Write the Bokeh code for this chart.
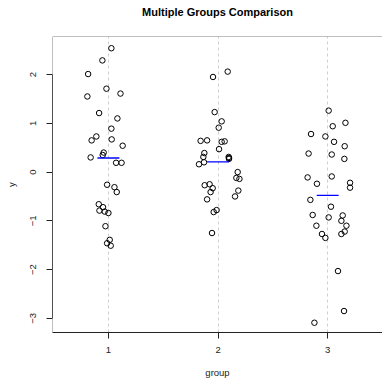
import numpy as np
from bokeh.plotting import figure
from bokeh.models import Range1d, Span, FixedTicker
from bokeh.embed import file_html
from bokeh.resources import INLINE

# ---- data ----
groups = [1, 2, 3]
tick_labels = ["1", "2", "3"]

g1_x = [1.027, 0.945, 0.815, 0.982, 1.110, 0.808, 0.915, 1.082, 1.027, 0.890,
        0.847, 1.030, 1.130, 0.957, 0.948, 0.838, 1.070, 1.120, 0.988, 1.055,
        1.076, 0.912, 0.951, 0.918, 0.966, 1.000, 0.973, 1.012, 0.988, 1.021]
g1_y = [2.54, 2.29, 2.01, 1.71, 1.61, 1.55, 1.21, 1.10, 0.89, 0.73,
        0.65, 0.67, 0.54, 0.40, 0.35, 0.30, 0.19, 0.19, -0.26, -0.31,
        -0.41, -0.66, -0.72, -0.79, -0.81, -0.84, -1.11, -1.39, -1.46, -1.51]

g2_x = [2.088, 1.954, 1.969, 2.033, 2.006, 1.841, 1.900, 2.033, 2.060, 2.009,
        1.875, 1.866, 2.097, 2.100, 2.100, 1.872, 1.826, 2.179, 2.167, 2.195,
        1.878, 1.923, 1.951, 1.932, 2.185, 2.155, 1.900, 1.987, 1.960, 1.945]
g2_y = [2.06, 1.95, 1.23, 1.04, 0.91, 0.64, 0.65, 0.62, 0.63, 0.47,
        0.39, 0.31, 0.31, 0.27, 0.29, 0.20, 0.16, 0.00, -0.12, -0.14,
        -0.27, -0.25, -0.33, -0.41, -0.38, -0.50, -0.56, -0.78, -0.82, -1.25]

g3_x = [3.009, 3.162, 3.046, 2.848, 2.979, 3.058, 3.155, 2.826, 3.037, 3.152,
        2.817, 3.037, 2.902, 3.204, 3.204, 2.842, 3.030, 2.863, 3.009, 3.137,
        3.125, 2.897, 3.171, 2.948, 2.979, 3.155, 3.125, 3.094, 3.149, 2.879]
g3_y = [1.26, 1.01, 0.94, 0.78, 0.73, 0.62, 0.53, 0.38, 0.36, 0.27,
        -0.11, -0.09, -0.24, -0.22, -0.32, -0.57, -0.71, -0.88, -0.93, -0.89,
        -1.00, -1.10, -1.10, -1.27, -1.35, -1.22, -1.27, -2.03, -2.85, -3.09]

y_ticks = [-3, -2, -1, 0, 1, 2]
title_text = "Multiple Groups Comparison"

FONT = "Liberation Sans"

p = figure(width=382, height=380, output_backend="svg", toolbar_location=None,
           x_range=Range1d(0.49, 3.50), y_range=Range1d(-3.29, 2.78),
           min_border_left=52, min_border_right=0, min_border_top=36,
           min_border_bottom=47)
p.background_fill_color = "white"
p.border_fill_color = "white"
p.outline_line_color = None

# title: a trailing empty line lifts the text towards the top of the page
p.title.text = title_text + "\n"
p.title.align = "center"
p.title.vertical_align = "top"
p.title.text_font = FONT
p.title.text_font_size = "11px"
p.title.text_font_style = "bold"
p.title.text_color = "black"
p.title.standoff = 10

# frame lines (top & left gray)
p.add_layout(Span(location=p.y_range.end, dimension="width", line_color="#808080", line_width=1))
p.add_layout(Span(location=p.x_range.start, dimension="height", line_color="#808080", line_width=1))

# grid
p.ygrid.visible = False
p.xgrid.ticker = FixedTicker(ticks=groups)
p.xgrid.grid_line_color = "#cfcfcf"
p.xgrid.grid_line_dash = "3 3"
p.xgrid.grid_line_width = 1

# axes
xa = p.xaxis[0]
xa.ticker = FixedTicker(ticks=groups)
xa.major_label_overrides = {g: t for g, t in zip(groups, tick_labels)}
xa.axis_line_color = "#222222"
xa.major_tick_out = 6
xa.major_tick_in = 0
xa.minor_tick_line_color = None
xa.major_tick_line_color = "#222222"
xa.major_label_text_font = FONT
xa.major_label_text_font_size = "9.5px"
xa.major_label_text_color = "#222222"
xa.major_label_standoff = 8
xa.axis_label = "group"
xa.axis_label_text_font = FONT
xa.axis_label_text_font_size = "9.5px"
xa.axis_label_text_font_style = "normal"
xa.axis_label_text_color = "#222222"
xa.axis_label_standoff = 11

ya = p.yaxis[0]
ya.ticker = FixedTicker(ticks=y_ticks)
ya.bounds = (min(y_ticks), max(y_ticks))
ya.axis_line_color = "#222222"
ya.major_tick_out = 6
ya.major_tick_in = 0
ya.minor_tick_line_color = None
ya.major_tick_line_color = "#222222"
ya.major_label_orientation = "vertical"
ya.major_label_text_font = FONT
ya.major_label_text_font_size = "9.5px"
ya.major_label_text_color = "#222222"
ya.major_label_standoff = 10
ya.axis_label = "y"
ya.axis_label_text_font = FONT
ya.axis_label_text_font_size = "9.5px"
ya.axis_label_text_font_style = "normal"
ya.axis_label_text_color = "#222222"
ya.axis_label_standoff = 11

# points
for xs, ys in [(g1_x, g1_y), (g2_x, g2_y), (g3_x, g3_y)]:
    p.scatter(xs, ys, marker="circle", size=5.5, fill_color=None,
              line_color="black", line_width=1)

# group means
means = [np.mean(g1_y), np.mean(g2_y), np.mean(g3_y)]
half = 0.1
p.segment(x0=[g - half for g in groups], y0=means,
          x1=[g + half for g in groups], y1=means,
          line_color="blue", line_width=1.3)

open("out.html", "w").write(file_html(p, INLINE))
